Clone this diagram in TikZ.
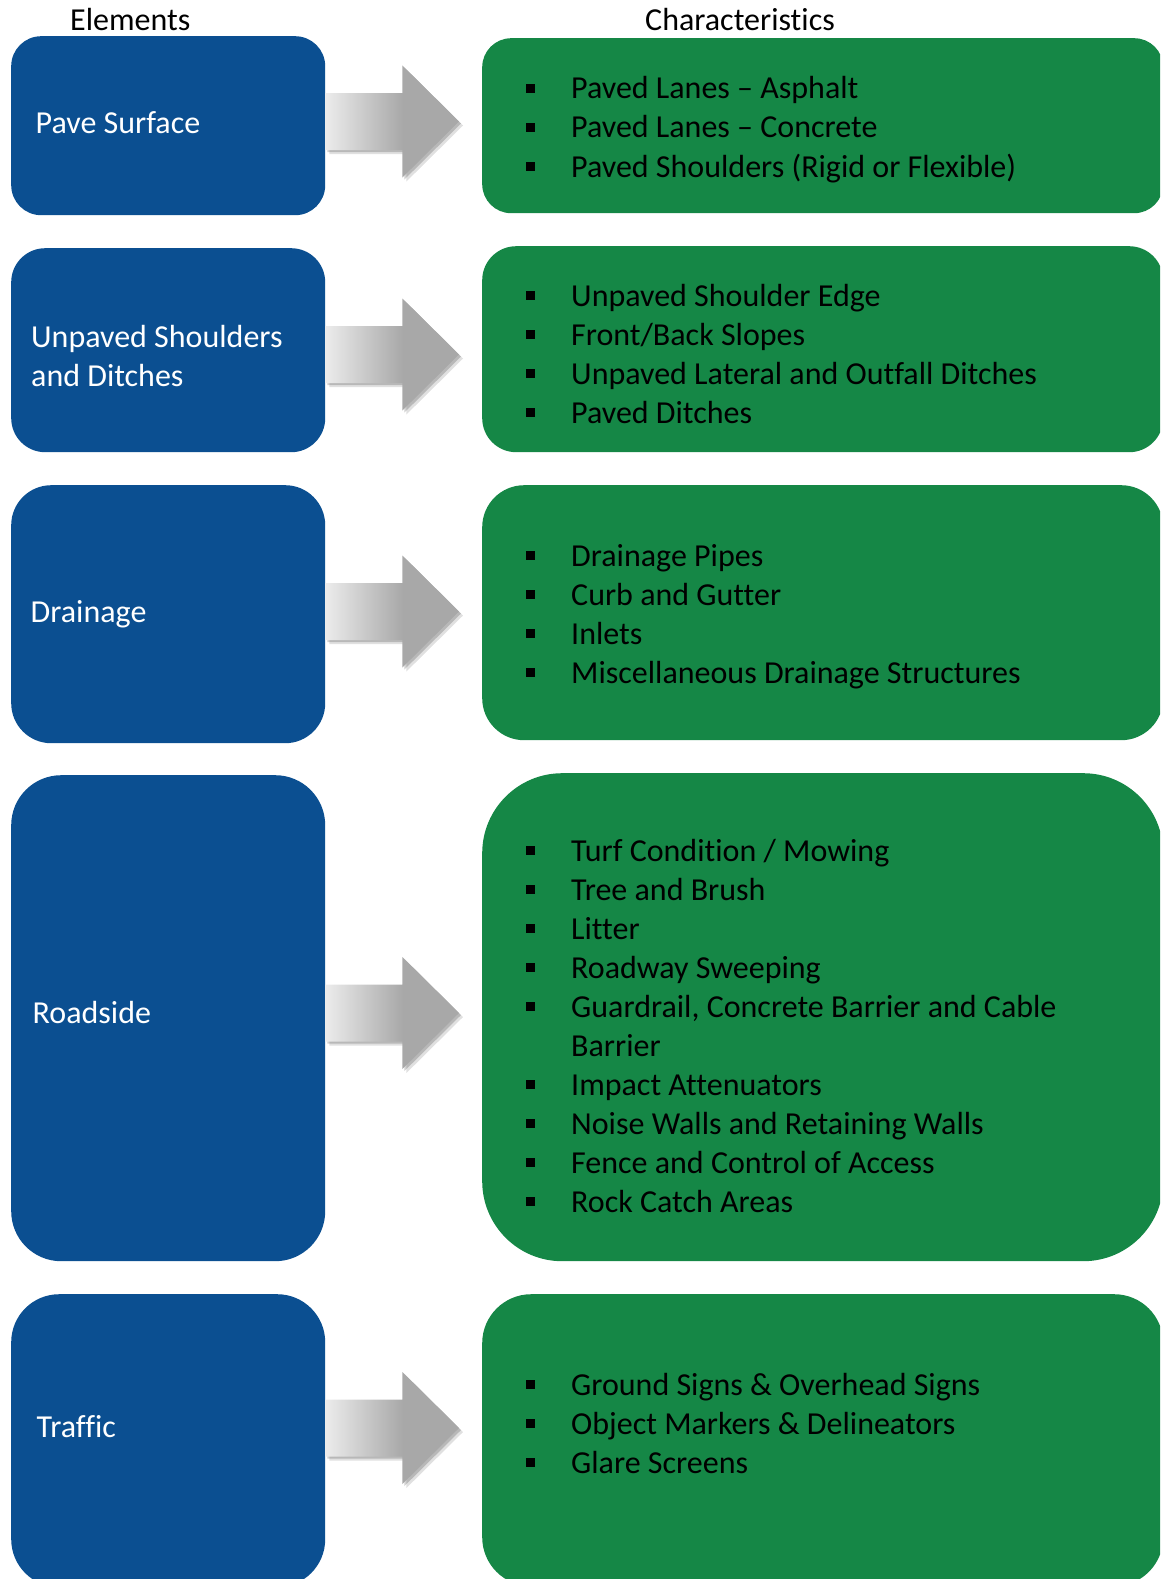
\documentclass[tikz,border=0pt]{standalone}
\usepackage{fontspec}
\setmainfont{Carlito}[Ligatures=NoCommon]
\usetikzlibrary{calc,shadows}

\definecolor{elemblue}{RGB}{11,79,145}
\definecolor{chrgreen}{RGB}{21,135,70}
\definecolor{arrowlight}{RGB}{236,236,236}
\definecolor{arrowdark}{RGB}{168,168,168}

\pgfdeclarehorizontalshading{arrowgrey}{100bp}{color(0bp)=(arrowlight); color(25bp)=(arrowlight); color(54bp)=(arrowdark); color(100bp)=(arrowdark)}

\newcommand\bigtxt{\fontsize{32}{39}\selectfont}
\newcommand\itm{\makebox[45pt][l]{\rule[6pt]{9pt}{9pt}}}

% fat grey arrow: from box #1 to box #2, at height #3
\newcommand\fatarrow[3]{%
	\coordinate (s) at (#1.east |- 0,#3);
	\coordinate (t) at ($(#2.west |- 0,#3)+(-23,0)$);
	\path[fatarrow] ($(s)+(0,-28.5)$) -- ($(s)+(77,-28.5)$) -- ($(s)+(77,-56)$) -- (t)
		-- ($(s)+(77,56)$) -- ($(s)+(77,28.5)$) -- ($(s)+(0,28.5)$) -- cycle;
}

\begin{document}
\begin{tikzpicture}[x=1pt,y=-1pt]

	\tikzset{elem/.style={fill=elemblue, inner sep=0, minimum width=314pt, anchor=north west}}
	\tikzset{chr/.style={fill=chrgreen, inner sep=0, minimum width=681pt, anchor=north west}}
	\tikzset{elemtxt/.style={text=white, inner sep=0, anchor=base west, font=\bigtxt}}
	\tikzset{chrtxt/.style={text=black, inner sep=0, anchor=base west, font=\bigtxt}}
	\tikzset{fatarrow/.style={shading=arrowgrey,
		drop shadow={shadow xshift=2pt, shadow yshift=-2pt, opacity=.18, fill=black},
		drop shadow={shadow xshift=4pt, shadow yshift=-4pt, opacity=.12, fill=black}}}

	\useasboundingbox (0,0) rectangle (1160,1579);
	\clip (0,0) rectangle (1160,1579);

	\node[chrtxt] (elemhead) at (70,31) {Elements};
	\node[chrtxt] (chrhead) at (645,31) {Characteristics};

	% elements
	\node[elem, minimum height=179pt, rounded corners=30pt] (pave) at (11,36) {};
	\node[elem, minimum height=204pt, rounded corners=34pt] (unpaved) at (11,248) {};
	\node[elem, minimum height=258pt, rounded corners=40pt] (drain) at (11,485) {};
	\node[elem, minimum height=486pt, rounded corners=50pt] (road) at (11,775) {};
	\node[elem, minimum height=293pt, rounded corners=48pt] (traffic) at (11,1294) {};

	\node[elemtxt] (pavetxt) at (35.5,133) {Pave Surface};
	\node[elemtxt] (unpavedtxt) at (31,347) {\begin{tabular}[t]{@{}l@{}}Unpaved Shoulders\\and Ditches\end{tabular}};
	\node[elemtxt] (draintxt) at (30.5,622) {Drainage};
	\node[elemtxt] (roadtxt) at (32.5,1023) {Roadside};
	\node[elemtxt] (traffictxt) at (36.5,1437) {Traffic};

	% characteristics
	\node[chr, minimum height=175pt, rounded corners=29pt] (pavechr) at (482,38) {};
	\node[chr, minimum height=206pt, rounded corners=34pt] (unpavedchr) at (482,246) {};
	\node[chr, minimum height=255pt, rounded corners=42pt] (drainchr) at (482,485) {};
	\node[chr, minimum height=488pt, rounded corners=80pt] (roadchr) at (482,773) {};
	\node[chr, minimum height=292pt, rounded corners=49pt] (trafficchr) at (482,1294) {};

	\node[chrtxt] (pavelist) at (526,99) {\begin{tabular}[t]{@{}l@{}}
		\itm Paved Lanes – Asphalt\\
		\itm Paved Lanes – Concrete\\
		\itm Paved Shoulders (Rigid or Flexible)\end{tabular}};
	\node[chrtxt] (unpavedlist) at (526,306) {\begin{tabular}[t]{@{}l@{}}
		\itm Unpaved Shoulder Edge\\
		\itm Front/Back Slopes\\
		\itm Unpaved Lateral and Outfall Ditches\\
		\itm Paved Ditches\end{tabular}};
	\node[chrtxt] (drainlist) at (526,566) {\begin{tabular}[t]{@{}l@{}}
		\itm Drainage Pipes\\
		\itm Curb and Gutter\\
		\itm Inlets\\
		\itm Miscellaneous Drainage Structures\end{tabular}};
	\node[chrtxt] (roadlist) at (526,861) {\begin{tabular}[t]{@{}l@{}}
		\itm Turf Condition / Mowing\\
		\itm Tree and Brush\\
		\itm Litter\\
		\itm Roadway Sweeping\\
		\itm Guardrail, Concrete Barrier and Cable\\
		\hspace{45pt}Barrier\\
		\itm Impact Attenuators\\
		\itm Noise Walls and Retaining Walls\\
		\itm Fence and Control of Access\\
		\itm Rock Catch Areas\end{tabular}};
	\node[chrtxt] (trafficlist) at (526,1395) {\begin{tabular}[t]{@{}l@{}}
		\itm Ground Signs \& Overhead Signs\\
		\itm Object Markers \& Delineators\\
		\itm Glare Screens\end{tabular}};

	% arrows
	\fatarrow{pave}{pavechr}{121.5}
	\fatarrow{unpaved}{unpavedchr}{354.5}
	\fatarrow{drain}{drainchr}{611.5}
	\fatarrow{road}{roadchr}{1013}
	\fatarrow{traffic}{trafficchr}{1428}

\end{tikzpicture}
\end{document}
